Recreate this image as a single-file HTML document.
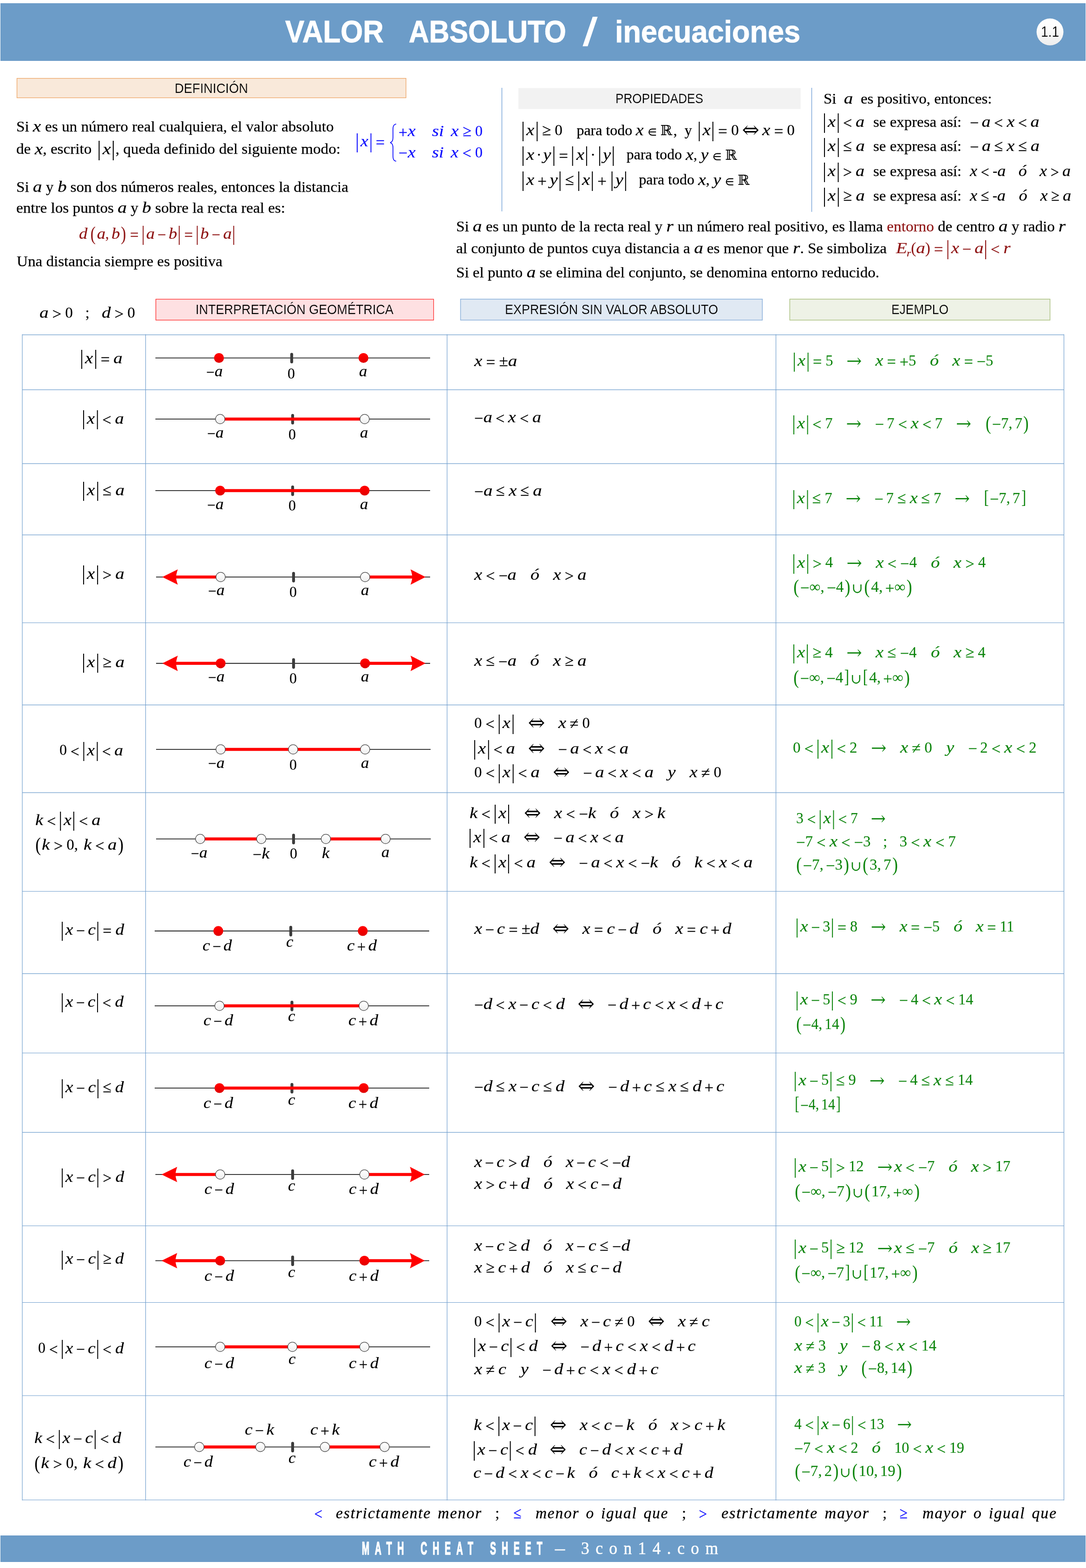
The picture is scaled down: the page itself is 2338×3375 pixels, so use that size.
<!DOCTYPE html>
<html lang="es"><head><meta charset="utf-8"><title>VALOR ABSOLUTO / inecuaciones</title>
<style>
*{margin:0;padding:0;box-sizing:border-box}
html,body{width:2338px;height:3375px;background:#fff;overflow:hidden}
body{position:relative;font-family:"Liberation Serif","DejaVu Math TeX Gyre","DejaVu Serif",serif}
.g{position:absolute;left:0;top:0}
.t{position:absolute;white-space:pre;line-height:1;transform-origin:0 0}
.hd{font-family:"Liberation Sans","DejaVu Sans",sans-serif;font-weight:bold;-webkit-text-stroke:0.9px #fff}
.lb{font-family:"Liberation Sans","DejaVu Sans",sans-serif}
.tx{font-family:"Liberation Serif","DejaVu Math TeX Gyre","DejaVu Serif",serif}
.tx .m{font-size:1.044em}
.tx{-webkit-text-stroke:0.25px}
.m{-webkit-text-stroke:0.12px}
.m i{-webkit-text-stroke:0.22px}
.hd.sl{font-weight:normal;-webkit-text-stroke:2px #fff}
.v{font-style:italic;font-size:1.04em;display:inline-block;transform:scaleX(1.14);transform-origin:0 50%;margin-right:0.07em}
.m i,.m>i,i{font-style:italic}
.m i{font-size:1.02em;display:inline-block;transform:scaleX(1.15);transform-origin:0 100%;margin-right:0.07em}
.bar{display:inline-block;width:0;border-left:2.2px solid;height:1.25em;vertical-align:-0.39em;margin:0 0.1em 0 0.12em}
.bar+i{margin-left:0.09em}
.bar.b0{margin-left:0}
.ar{font-family:"DejaVu Math TeX Gyre","DejaVu Sans",sans-serif;font-size:1.08em;margin:0 0.06em}
.a2{font-size:1.2em;margin:0 0.02em}
.dt{margin:0 0.12em}
.o.r{margin:0 0.05em}
.o.q{top:0}
.o.n{top:0.06em}
.k{display:inline-block}
.gp{display:inline-block}
.o{font-size:1.05em;line-height:0;position:relative;top:0.085em;-webkit-text-stroke:0.3px}
.m{word-spacing:-0.06em}
.p{display:inline-block;font-size:1.29em;transform:translateY(0.075em) scaleX(0.82)}
.p.bk{font-size:1.2em;transform:translateY(0.03em) scaleX(0.78)}
.pl{margin-right:0.03em}
.pr{margin-left:0.03em}
.cm{margin-right:0.16em}
.m i.cj{margin:0 0.17em 0 0.12em}
.u,.e,.R{font-family:"DejaVu Math TeX Gyre","DejaVu Serif",serif}
.u{font-size:0.86em;margin:0 0.08em;position:relative;top:0.03em}
.e{font-size:0.74em}
.R{font-size:0.92em}
sub{font-size:0.6em;vertical-align:-0.35em;line-height:0}
.fn{font-style:italic;letter-spacing:0.055em;word-spacing:0.12em;-webkit-text-stroke:0.3px}
.sc{-webkit-text-stroke:0.2px}
.ft1{font-family:"Liberation Sans","DejaVu Sans",sans-serif;font-weight:bold;letter-spacing:0.62em;word-spacing:0.35em;-webkit-text-stroke:1.6px #fff}
.ft2{letter-spacing:0.38em;-webkit-text-stroke:0.5px #fff}
.pb{display:inline-block;width:0;height:0}
</style></head><body>
<svg class="g" width="2338" height="3375" viewBox="0 0 2338 3375">
<defs><linearGradient id="go" x1="0" y1="0" x2="0" y2="1"><stop offset="0" stop-color="#fff"/><stop offset="0.3" stop-color="#fcfcfc"/><stop offset="1" stop-color="#ececec"/></linearGradient><linearGradient id="gc" x1="0" y1="0" x2="0" y2="1"><stop offset="0" stop-color="#ff0000"/><stop offset="0.35" stop-color="#fa0000"/><stop offset="1" stop-color="#de0000"/></linearGradient><linearGradient id="gb" x1="0" y1="0" x2="0" y2="1"><stop offset="0" stop-color="#fff"/><stop offset="0.35" stop-color="#fdfdfd"/><stop offset="1" stop-color="#ededed"/></linearGradient></defs>
<rect x="1.5" y="7.5" width="2335" height="123" fill="#6c9cc8" stroke="#6395c5" stroke-width="1"/>
<rect x="1.5" y="3305.5" width="2335" height="56" fill="#6c9cc8" stroke="#6395c5" stroke-width="1"/>
<circle cx="2260.5" cy="69.6" r="29.2" fill="#5f8cb6" opacity="0.45"/>
<circle cx="2260.5" cy="68.8" r="29" fill="url(#gb)"/>
<rect x="36.5" y="168.6" width="837.5" height="41.9" fill="#f9e9da" stroke="#eda566" stroke-width="1.3"/>
<rect x="1116" y="189.6" width="607.5" height="45" fill="#f2f2f2"/>
<rect x="335.5" y="644" width="598" height="45" fill="#fee0e2" stroke="#ff2222" stroke-width="1.25"/>
<rect x="991.5" y="643.8" width="649.7" height="45.2" fill="#e0e9f3" stroke="#8fb3dc" stroke-width="1.5"/>
<rect x="1700.3" y="643.8" width="560.2" height="45.2" fill="#eef2e6" stroke="#aec384" stroke-width="1.5"/>
<path d="M1080.5 189V455M1747.5 189V456" stroke="#7da7d9" stroke-width="1.5" fill="none"/>
<path d="M48 720.6H2290.5M48 838.9H2290.5M48 997.9H2290.5M48 1151.4H2290.5M48 1340.5H2290.5M48 1517.4H2290.5M48 1706.1H2290.5M48 1918.5H2290.5M48 2095.6H2290.5M48 2266.5H2290.5M48 2437.4H2290.5M48 2638.5H2290.5M48 2803.5H2290.5M48 3004H2290.5M48 3228.5H2290.5M48 719.6V3229.5M313.5 719.6V3229.5M962.5 719.6V3229.5M1670.5 719.6V3229.5M2290.5 719.6V3229.5" stroke="#6f9ecd" stroke-width="1.15" fill="none"/>
<path d="M853 267 C845 268 846 276 846 285 L846 296 C846 303 844 306 840 307 C844 308 846 311 846 318 L846 329 C846 338 845 346 853 347" stroke="#0c0cff" stroke-width="1.7" fill="none"/>
<path d="M334.5 770.5H926" stroke="#3c3c3c" stroke-width="2.15"/>
<path d="M628 762.5V779" stroke="#3c3c3c" stroke-width="6.2" stroke-linecap="round"/>
<circle cx="471.5" cy="770.5" r="10.6" fill="url(#gc)"/>
<circle cx="782.5" cy="770.5" r="10.6" fill="url(#gc)"/>
<path d="M334.5 902H926" stroke="#3c3c3c" stroke-width="2.15"/>
<path d="M630 894V910.5" stroke="#3c3c3c" stroke-width="6.2" stroke-linecap="round"/>
<path d="M474 902H785" stroke="#ff0000" stroke-width="6.5"/>
<circle cx="474" cy="902" r="10.1" fill="url(#go)" stroke="#484848" stroke-width="1.2"/>
<circle cx="785" cy="902" r="10.1" fill="url(#go)" stroke="#484848" stroke-width="1.2"/>
<path d="M334.5 1056H926" stroke="#3c3c3c" stroke-width="2.15"/>
<path d="M630 1048V1064.5" stroke="#3c3c3c" stroke-width="6.2" stroke-linecap="round"/>
<path d="M474 1056H785" stroke="#ff0000" stroke-width="6.5"/>
<circle cx="474" cy="1056" r="10.6" fill="url(#gc)"/>
<circle cx="785" cy="1056" r="10.6" fill="url(#gc)"/>
<path d="M336 1242H926" stroke="#3c3c3c" stroke-width="2.15"/>
<path d="M632 1234V1250.5" stroke="#3c3c3c" stroke-width="6.2" stroke-linecap="round"/>
<path d="M378 1242H475" stroke="#ff0000" stroke-width="6.5"/>
<path d="M786 1242H890" stroke="#ff0000" stroke-width="6.5"/>
<path d="M349.4 1242 L382.8 1225.4 Q379.4 1235 379 1242 Q379.4 1249 382.8 1258.6 Z" fill="#ff0000"/>
<path d="M916.1 1242 L883.8 1225.4 Q887.2 1235 887.6 1242 Q887.2 1249 883.8 1258.6 Z" fill="#ff0000"/>
<circle cx="475" cy="1242" r="10.1" fill="url(#go)" stroke="#484848" stroke-width="1.2"/>
<circle cx="786" cy="1242" r="10.1" fill="url(#go)" stroke="#484848" stroke-width="1.2"/>
<path d="M336 1427.8H926" stroke="#3c3c3c" stroke-width="2.15"/>
<path d="M632 1419.8V1436.3" stroke="#3c3c3c" stroke-width="6.2" stroke-linecap="round"/>
<path d="M378 1427.8H475" stroke="#ff0000" stroke-width="6.5"/>
<path d="M786 1427.8H890" stroke="#ff0000" stroke-width="6.5"/>
<path d="M349.4 1427.8 L382.8 1411.2 Q379.4 1420.8 379 1427.8 Q379.4 1434.8 382.8 1444.4 Z" fill="#ff0000"/>
<path d="M916.1 1427.8 L883.8 1411.2 Q887.2 1420.8 887.6 1427.8 Q887.2 1434.8 883.8 1444.4 Z" fill="#ff0000"/>
<circle cx="475" cy="1427.8" r="10.6" fill="url(#gc)"/>
<circle cx="786" cy="1427.8" r="10.6" fill="url(#gc)"/>
<path d="M336 1613H927" stroke="#3c3c3c" stroke-width="2.15"/>
<path d="M475 1613H786" stroke="#ff0000" stroke-width="6.5"/>
<circle cx="475" cy="1613" r="10.1" fill="url(#go)" stroke="#484848" stroke-width="1.2"/>
<circle cx="631" cy="1613" r="10.1" fill="url(#go)" stroke="#484848" stroke-width="1.2"/>
<circle cx="786" cy="1613" r="10.1" fill="url(#go)" stroke="#484848" stroke-width="1.2"/>
<path d="M336 1805.7H927.5" stroke="#3c3c3c" stroke-width="2.15"/>
<path d="M632 1797.7V1814.2" stroke="#3c3c3c" stroke-width="6.2" stroke-linecap="round"/>
<path d="M431 1805.7H562.5" stroke="#ff0000" stroke-width="6.5"/>
<path d="M701.5 1805.7H830" stroke="#ff0000" stroke-width="6.5"/>
<circle cx="431" cy="1805.7" r="10.1" fill="url(#go)" stroke="#484848" stroke-width="1.2"/>
<circle cx="562.5" cy="1805.7" r="10.1" fill="url(#go)" stroke="#484848" stroke-width="1.2"/>
<circle cx="701.5" cy="1805.7" r="10.1" fill="url(#go)" stroke="#484848" stroke-width="1.2"/>
<circle cx="830" cy="1805.7" r="10.1" fill="url(#go)" stroke="#484848" stroke-width="1.2"/>
<path d="M333 2003.9H924" stroke="#3c3c3c" stroke-width="2.15"/>
<path d="M626 1995.9V2012.4" stroke="#3c3c3c" stroke-width="6.2" stroke-linecap="round"/>
<circle cx="470" cy="2003.9" r="10.6" fill="url(#gc)"/>
<circle cx="781" cy="2003.9" r="10.6" fill="url(#gc)"/>
<path d="M333 2165H924" stroke="#3c3c3c" stroke-width="2.15"/>
<path d="M628.5 2157V2173.5" stroke="#3c3c3c" stroke-width="6.2" stroke-linecap="round"/>
<path d="M472.5 2165H783" stroke="#ff0000" stroke-width="6.5"/>
<circle cx="472.5" cy="2165" r="10.1" fill="url(#go)" stroke="#484848" stroke-width="1.2"/>
<circle cx="783" cy="2165" r="10.1" fill="url(#go)" stroke="#484848" stroke-width="1.2"/>
<path d="M333 2342H924" stroke="#3c3c3c" stroke-width="2.15"/>
<path d="M628.5 2334V2350.5" stroke="#3c3c3c" stroke-width="6.2" stroke-linecap="round"/>
<path d="M472.5 2342H783" stroke="#ff0000" stroke-width="6.5"/>
<circle cx="472.5" cy="2342" r="10.6" fill="url(#gc)"/>
<circle cx="783" cy="2342" r="10.6" fill="url(#gc)"/>
<path d="M334.5 2528H924" stroke="#3c3c3c" stroke-width="2.15"/>
<path d="M630 2520V2536.5" stroke="#3c3c3c" stroke-width="6.2" stroke-linecap="round"/>
<path d="M376 2528H474" stroke="#ff0000" stroke-width="6.5"/>
<path d="M784.5 2528H888" stroke="#ff0000" stroke-width="6.5"/>
<path d="M347.8 2528 L381.5 2511.4 Q378.1 2521 377.7 2528 Q378.1 2535 381.5 2544.6 Z" fill="#ff0000"/>
<path d="M914.5 2528 L882.5 2511.4 Q885.9 2521 886.3 2528 Q885.9 2535 882.5 2544.6 Z" fill="#ff0000"/>
<circle cx="474" cy="2528" r="10.1" fill="url(#go)" stroke="#484848" stroke-width="1.2"/>
<circle cx="784.5" cy="2528" r="10.1" fill="url(#go)" stroke="#484848" stroke-width="1.2"/>
<path d="M334.5 2713.5H924" stroke="#3c3c3c" stroke-width="2.15"/>
<path d="M630 2705.5V2722" stroke="#3c3c3c" stroke-width="6.2" stroke-linecap="round"/>
<path d="M376 2713.5H474" stroke="#ff0000" stroke-width="6.5"/>
<path d="M784.5 2713.5H888" stroke="#ff0000" stroke-width="6.5"/>
<path d="M347.8 2713.5 L381.5 2696.9 Q378.1 2706.5 377.7 2713.5 Q378.1 2720.5 381.5 2730.1 Z" fill="#ff0000"/>
<path d="M914.5 2713.5 L882.5 2696.9 Q885.9 2706.5 886.3 2713.5 Q885.9 2720.5 882.5 2730.1 Z" fill="#ff0000"/>
<circle cx="474" cy="2713.5" r="10.6" fill="url(#gc)"/>
<circle cx="784.5" cy="2713.5" r="10.6" fill="url(#gc)"/>
<path d="M334.5 2899H926" stroke="#3c3c3c" stroke-width="2.15"/>
<path d="M474 2899H784.5" stroke="#ff0000" stroke-width="6.5"/>
<circle cx="474" cy="2899" r="10.1" fill="url(#go)" stroke="#484848" stroke-width="1.2"/>
<circle cx="629.5" cy="2899" r="10.1" fill="url(#go)" stroke="#484848" stroke-width="1.2"/>
<circle cx="784.5" cy="2899" r="10.1" fill="url(#go)" stroke="#484848" stroke-width="1.2"/>
<path d="M334.5 3114.5H926" stroke="#3c3c3c" stroke-width="2.15"/>
<path d="M630 3106.5V3123" stroke="#3c3c3c" stroke-width="6.2" stroke-linecap="round"/>
<path d="M429 3114.5H560.5" stroke="#ff0000" stroke-width="6.5"/>
<path d="M699.5 3114.5H828" stroke="#ff0000" stroke-width="6.5"/>
<circle cx="429" cy="3114.5" r="10.1" fill="url(#go)" stroke="#484848" stroke-width="1.2"/>
<circle cx="560.5" cy="3114.5" r="10.1" fill="url(#go)" stroke="#484848" stroke-width="1.2"/>
<circle cx="699.5" cy="3114.5" r="10.1" fill="url(#go)" stroke="#484848" stroke-width="1.2"/>
<circle cx="828" cy="3114.5" r="10.1" fill="url(#go)" stroke="#484848" stroke-width="1.2"/>
</svg>
<div class="t hd" style="left:614.0px;top:35.0px;font-size:66.5px;color:#fff;transform:scaleX(0.9305)">VALOR</div>
<div class="t hd" style="left:880.0px;top:35.0px;font-size:66.5px;color:#fff;transform:scaleX(0.9115)">ABSOLUTO</div>
<div class="t hd sl" style="left:1256.0px;top:27.0px;font-size:84px;color:#fff;transform:scaleX(1.2423)">/</div>
<div class="t hd" style="left:1323.5px;top:35.0px;font-size:66.5px;color:#fff;transform:scaleX(0.9470)">inecuaciones</div>
<div class="t lb" style="left:2241.3px;top:53.0px;font-size:30.5px;color:#000;transform:scaleX(0.9197);-webkit-text-stroke:0.15px #f7f7f7">1.1</div>
<div class="t lb" style="left:376.0px;top:175.0px;font-size:29.5px;color:#000;transform:scaleX(0.9269);-webkit-text-stroke:0.18px #f9e9da">DEFINICIÓN</div>
<div class="t lb" style="left:1325.0px;top:196.5px;font-size:29.5px;color:#000;transform:scaleX(0.8868);-webkit-text-stroke:0.18px #f2f2f2">PROPIEDADES</div>
<div class="t lb" style="left:421.0px;top:651.0px;font-size:30px;color:#000;transform:scaleX(0.9010);-webkit-text-stroke:0.18px #fee0e2">INTERPRETACIÓN GEOMÉTRICA</div>
<div class="t lb" style="left:1087.0px;top:651.0px;font-size:30px;color:#000;transform:scaleX(0.8987);-webkit-text-stroke:0.18px #e0e9f3">EXPRESIÓN SIN VALOR ABSOLUTO</div>
<div class="t lb" style="left:1919.0px;top:651.0px;font-size:30px;color:#000;transform:scaleX(0.8783);-webkit-text-stroke:0.18px #eef2e6">EJEMPLO</div>
<div class="t tx" style="left:35.0px;top:256.3px;font-size:31.6px;color:#000;transform:scaleX(1.0510)">Si <i class="v">x</i> es un número real cualquiera, el valor absoluto</div>
<div class="t tx" style="left:35.0px;top:303.3px;font-size:31.6px;color:#000;transform:scaleX(1.0493)">de <i class="v">x</i>, escrito <span class="m"> <b class="bar b0"></b><i>x</i><b class="bar"></b></span>, queda definido del siguiente modo:</div>
<div class="t tx" style="left:35.0px;top:385.5px;font-size:31.6px;color:#000;transform:scaleX(1.0478)">Si <i class="v">a</i> y <i class="v">b</i> son dos números reales, entonces la distancia</div>
<div class="t tx" style="left:35.0px;top:431.0px;font-size:31.6px;color:#000;transform:scaleX(1.0497)">entre los puntos <i class="v">a</i> y <i class="v">b</i> sobre la recta real es:</div>
<div class="t m" style="left:170.0px;top:479.3px;font-size:33px;color:#8e1313;transform:scaleX(0.9466)"><i>d</i> <span class="p pl">(</span><i>a</i><span class="cm">,</span><i>b</i><span class="p pr">)</span> <span class="o r">=</span><span class="k" style="margin-left:-0.09em"></span> <b class="bar"></b><i>a</i> <span class="o">−</span> <i>b</i><b class="bar"></b> <span class="k" style="margin-left:-0.04em"></span><span class="o r">=</span><span class="k" style="margin-left:-0.09em"></span> <b class="bar"></b><i>b</i> <span class="o">−</span> <i>a</i><b class="bar"></b></div>
<div class="t tx" style="left:36.0px;top:547.0px;font-size:31.6px;color:#000;transform:scaleX(1.0476)">Una distancia siempre es positiva</div>
<div class="t m" style="left:85.0px;top:656.4px;font-size:33px;color:#000;transform:scaleX(1.0079)"><i>a</i> <span class="o r">&gt;</span> 0<span class="gp" style="width:0.8em"></span>;<span class="gp" style="width:0.8em"></span><i>d</i> <span class="o r">&gt;</span> 0</div>
<div class="t m" style="left:768.0px;top:287.1px;font-size:33px;color:#0c0cff;transform:scaleX(0.9871)"><b class="bar b0"></b><i>x</i><b class="bar"></b> <span class="k" style="margin-left:-0.04em"></span><span class="o r">=</span></div>
<div class="t m" style="left:858.0px;top:265.4px;font-size:33px;color:#0c0cff;transform:scaleX(0.9877)"><span class="o">+</span><i>x</i><span class="gp" style="width:1.1em"></span><i>si</i><span class="gp" style="width:0.5em"></span><i>x</i> <span class="o r q">≥</span> 0</div>
<div class="t m" style="left:858.0px;top:310.5px;font-size:33px;color:#0c0cff;transform:scaleX(0.9849)"><span class="o">−</span><i>x</i><span class="gp" style="width:1.1em"></span><i>si</i><span class="gp" style="width:0.5em"></span><i>x</i> <span class="o r">&lt;</span> 0</div>
<div class="t tx" style="left:1125.0px;top:259.8px;font-size:31.6px;color:#000;transform:scaleX(1.0117)"><span class="m"><b class="bar b0"></b><i>x</i><b class="bar"></b> <span class="k" style="margin-left:-0.04em"></span><span class="o r q">≥</span> 0</span>    para todo <i class="v">x</i> <span class="m"><span class="e">∈</span> <span class="R">ℝ</span></span>,  y <span class="m"> <b class="bar b0"></b><i>x</i><b class="bar"></b> <span class="k" style="margin-left:-0.04em"></span><span class="o r">=</span> 0<span style="margin:0 0.12em 0 0.15em"><span class="ar a2">⇔</span></span><i>x</i> <span class="o r">=</span> 0</span></div>
<div class="t tx" style="left:1125.0px;top:315.4px;font-size:31.6px;color:#000;transform:scaleX(1.0064)"><span class="m"><b class="bar b0"></b><i>x</i><span class="dt">·</span><i>y</i><b class="bar"></b> <span class="k" style="margin-left:-0.04em"></span><span class="o r">=</span><span class="k" style="margin-left:-0.09em"></span> <b class="bar"></b><i>x</i><b class="bar"></b><span class="dt">·</span><b class="bar"></b><i>y</i><b class="bar"></b></span>   para todo <i class="v">x</i>, <i class="v">y</i> <span class="m"><span class="e">∈</span> <span class="R">ℝ</span></span></div>
<div class="t tx" style="left:1125.0px;top:369.4px;font-size:31.6px;color:#000;transform:scaleX(1.0083)"><span class="m"><b class="bar b0"></b><i>x</i> <span class="o">+</span> <i>y</i><b class="bar"></b> <span class="k" style="margin-left:-0.04em"></span><span class="o r q">≤</span><span class="k" style="margin-left:-0.09em"></span> <b class="bar"></b><i>x</i><b class="bar"></b> <span class="o">+</span> <b class="bar"></b><i>y</i><b class="bar"></b></span>   para todo <i class="v">x</i>, <i class="v">y</i> <span class="m"><span class="e">∈</span> <span class="R">ℝ</span></span></div>
<div class="t tx" style="left:1772.5px;top:196.3px;font-size:31.6px;color:#000;transform:scaleX(1.0422)">Si  <i class="v">a</i>  es positivo, entonces:</div>
<div class="t tx" style="left:1774.0px;top:244.4px;font-size:31.6px;color:#000;transform:scaleX(0.9860)"><span class="m"><b class="bar b0"></b><i>x</i><b class="bar"></b> <span class="k" style="margin-left:-0.04em"></span><span class="o r">&lt;</span> <i>a</i></span></div>
<div class="t tx" style="left:1880.0px;top:246.8px;font-size:31.6px;color:#000;transform:scaleX(1.0413)">se expresa así:</div>
<div class="t tx" style="left:2088.0px;top:244.8px;font-size:31.6px;color:#000;transform:scaleX(0.9803)"><span class="m"><span class="o">−</span> <i>a</i> <span class="o r">&lt;</span> <i>x</i> <span class="o r">&lt;</span> <i>a</i></span></div>
<div class="t tx" style="left:1774.0px;top:296.9px;font-size:31.6px;color:#000;transform:scaleX(0.9918)"><span class="m"><b class="bar b0"></b><i>x</i><b class="bar"></b> <span class="k" style="margin-left:-0.04em"></span><span class="o r q">≤</span> <i>a</i></span></div>
<div class="t tx" style="left:1880.0px;top:299.3px;font-size:31.6px;color:#000;transform:scaleX(1.0413)">se expresa así:</div>
<div class="t tx" style="left:2088.0px;top:297.3px;font-size:31.6px;color:#000;transform:scaleX(0.9903)"><span class="m"><span class="o">−</span> <i>a</i> <span class="o r q">≤</span> <i>x</i> <span class="o r q">≤</span> <i>a</i></span></div>
<div class="t tx" style="left:1774.0px;top:350.4px;font-size:31.6px;color:#000;transform:scaleX(0.9860)"><span class="m"><b class="bar b0"></b><i>x</i><b class="bar"></b> <span class="k" style="margin-left:-0.04em"></span><span class="o r">&gt;</span> <i>a</i></span></div>
<div class="t tx" style="left:1880.0px;top:352.8px;font-size:31.6px;color:#000;transform:scaleX(1.0413)">se expresa así:</div>
<div class="t tx" style="left:2088.0px;top:350.8px;font-size:31.6px;color:#000;transform:scaleX(0.9261)"><span class="m"><i>x</i> <span class="o r">&lt;</span> -<i>a</i><span class="gp" style="width:0.8em"></span><i class="cj">ó</i><span class="gp" style="width:0.8em"></span><i>x</i> <span class="o r">&gt;</span> <i>a</i></span></div>
<div class="t tx" style="left:1774.0px;top:403.9px;font-size:31.6px;color:#000;transform:scaleX(0.9918)"><span class="m"><b class="bar b0"></b><i>x</i><b class="bar"></b> <span class="k" style="margin-left:-0.04em"></span><span class="o r q">≥</span> <i>a</i></span></div>
<div class="t tx" style="left:1880.0px;top:406.3px;font-size:31.6px;color:#000;transform:scaleX(1.0413)">se expresa así:</div>
<div class="t tx" style="left:2088.0px;top:404.3px;font-size:31.6px;color:#000;transform:scaleX(0.9345)"><span class="m"><i>x</i> <span class="o r q">≤</span> -<i>a</i><span class="gp" style="width:0.8em"></span><i class="cj">ó</i><span class="gp" style="width:0.8em"></span><i>x</i> <span class="o r q">≥</span> <i>a</i></span></div>
<div class="t tx" style="left:982.0px;top:470.8px;font-size:31.6px;color:#000;transform:scaleX(1.0501)">Si <i class="v">a</i> es un punto de la recta real y <i class="v">r</i> un número real positivo, es llama <span style="color:#8e1313">entorno</span> de centro <i class="v">a</i> y radio <i class="v">r</i></div>
<div class="t tx" style="left:982.0px;top:518.3px;font-size:31.6px;color:#000;transform:scaleX(1.0476)">al conjunto de puntos cuya distancia a <i class="v">a</i> es menor que <i class="v">r</i>. Se simboliza</div>
<div class="t m" style="left:1929.0px;top:516.9px;font-size:33px;color:#8e1313;transform:scaleX(1.0053)"><i>E</i><sub><i>r</i></sub>(<i>a</i>) <span class="o r">=</span><span class="k" style="margin-left:-0.09em"></span> <b class="bar"></b><i>x</i> <span class="o">−</span> <i>a</i><b class="bar"></b> <span class="k" style="margin-left:-0.04em"></span><span class="o r">&lt;</span> <i>r</i></div>
<div class="t tx" style="left:982.0px;top:569.5px;font-size:31.6px;color:#000;transform:scaleX(1.0463)">Si el punto <i class="v">a</i> se elimina del conjunto, se denomina entorno reducido.</div>
<div class="t m" style="left:175.0px;top:753.2px;font-size:33px;color:#000;transform:scaleX(1.0027)"><b class="bar b0"></b><i>x</i><b class="bar"></b> <span class="k" style="margin-left:-0.04em"></span><span class="o r">=</span> <i>a</i></div>
<div class="t m" style="left:179.0px;top:883.2px;font-size:33px;color:#000;transform:scaleX(0.9913)"><b class="bar b0"></b><i>x</i><b class="bar"></b> <span class="k" style="margin-left:-0.04em"></span><span class="o r">&lt;</span> <i>a</i></div>
<div class="t m" style="left:179.0px;top:1037.2px;font-size:33px;color:#000;transform:scaleX(1.0087)"><b class="bar b0"></b><i>x</i><b class="bar"></b> <span class="k" style="margin-left:-0.04em"></span><span class="o r q">≤</span> <i>a</i></div>
<div class="t m" style="left:179.0px;top:1217.2px;font-size:33px;color:#000;transform:scaleX(1.0027)"><b class="bar b0"></b><i>x</i><b class="bar"></b> <span class="k" style="margin-left:-0.04em"></span><span class="o r">&gt;</span> <i>a</i></div>
<div class="t m" style="left:179.0px;top:1407.2px;font-size:33px;color:#000;transform:scaleX(1.0087)"><b class="bar b0"></b><i>x</i><b class="bar"></b> <span class="k" style="margin-left:-0.04em"></span><span class="o r q">≥</span> <i>a</i></div>
<div class="t m" style="left:128.0px;top:1597.2px;font-size:33px;color:#000;transform:scaleX(0.9696)">0 <span class="o r">&lt;</span><span class="k" style="margin-left:-0.09em"></span> <b class="bar"></b><i>x</i><b class="bar"></b> <span class="k" style="margin-left:-0.04em"></span><span class="o r">&lt;</span> <i>a</i></div>
<div class="t m" style="left:76.0px;top:1747.2px;font-size:33px;color:#000;transform:scaleX(0.9853)"><i>k</i> <span class="o r">&lt;</span><span class="k" style="margin-left:-0.09em"></span> <b class="bar"></b><i>x</i><b class="bar"></b> <span class="k" style="margin-left:-0.04em"></span><span class="o r">&lt;</span> <i>a</i></div>
<div class="t m" style="left:75.0px;top:1793.6px;font-size:33px;color:#000"><span class="p pl">(</span><i>k</i> <span class="o r">&gt;</span> 0<span class="cm">,</span> <i>k</i> <span class="o r">&lt;</span> <i>a</i><span class="p pr">)</span></div>
<div class="t m" style="left:132.5px;top:1983.7px;font-size:33px;color:#000;transform:scaleX(0.9697)"><b class="bar b0"></b><i>x</i> <span class="o">−</span> <i>c</i><b class="bar"></b> <span class="k" style="margin-left:-0.04em"></span><span class="o r">=</span> <i>d</i></div>
<div class="t m" style="left:132.5px;top:2138.2px;font-size:33px;color:#000;transform:scaleX(0.9624)"><b class="bar b0"></b><i>x</i> <span class="o">−</span> <i>c</i><b class="bar"></b> <span class="k" style="margin-left:-0.04em"></span><span class="o r">&lt;</span> <i>d</i></div>
<div class="t m" style="left:132.5px;top:2322.7px;font-size:33px;color:#000;transform:scaleX(0.9735)"><b class="bar b0"></b><i>x</i> <span class="o">−</span> <i>c</i><b class="bar"></b> <span class="k" style="margin-left:-0.04em"></span><span class="o r q">≤</span> <i>d</i></div>
<div class="t m" style="left:132.5px;top:2515.2px;font-size:33px;color:#000;transform:scaleX(0.9697)"><b class="bar b0"></b><i>x</i> <span class="o">−</span> <i>c</i><b class="bar"></b> <span class="k" style="margin-left:-0.04em"></span><span class="o r">&gt;</span> <i>d</i></div>
<div class="t m" style="left:132.5px;top:2691.7px;font-size:33px;color:#000;transform:scaleX(0.9735)"><b class="bar b0"></b><i>x</i> <span class="o">−</span> <i>c</i><b class="bar"></b> <span class="k" style="margin-left:-0.04em"></span><span class="o r q">≥</span> <i>d</i></div>
<div class="t m" style="left:82.0px;top:2884.2px;font-size:33px;color:#000;transform:scaleX(0.9649)">0 <span class="o r">&lt;</span><span class="k" style="margin-left:-0.09em"></span> <b class="bar"></b><i>x</i> <span class="o">−</span> <i>c</i><b class="bar"></b> <span class="k" style="margin-left:-0.04em"></span><span class="o r">&lt;</span> <i>d</i></div>
<div class="t m" style="left:74.0px;top:3077.7px;font-size:33px;color:#000;transform:scaleX(0.9765)"><i>k</i> <span class="o r">&lt;</span><span class="k" style="margin-left:-0.09em"></span> <b class="bar"></b><i>x</i> <span class="o">−</span> <i>c</i><b class="bar"></b> <span class="k" style="margin-left:-0.04em"></span><span class="o r">&lt;</span> <i>d</i></div>
<div class="t m" style="left:73.0px;top:3124.6px;font-size:33px;color:#000;transform:scaleX(1.0101)"><span class="p pl">(</span><i>k</i> <span class="o r">&gt;</span> 0<span class="cm">,</span> <i>k</i> <span class="o r">&lt;</span> <i>d</i><span class="p pr">)</span></div>
<div class="t m" style="left:1021.0px;top:760.3px;font-size:33px;color:#000;transform:scaleX(1.0106)"><i>x</i> <span class="o r">=</span> <span class="o q">±</span><i>a</i></div>
<div class="t m" style="left:1021.0px;top:881.3px;font-size:33px;color:#000;transform:scaleX(0.9844)"><span class="o">−</span><i>a</i> <span class="o r">&lt;</span> <i>x</i> <span class="o r">&lt;</span> <i>a</i></div>
<div class="t m" style="left:1021.0px;top:1039.3px;font-size:33px;color:#000;transform:scaleX(1.0019)"><span class="o">−</span><i>a</i> <span class="o r q">≤</span> <i>x</i> <span class="o r q">≤</span> <i>a</i></div>
<div class="t m" style="left:1021.0px;top:1220.3px;font-size:33px;color:#000;transform:scaleX(0.9920)"><i>x</i> <span class="o r">&lt;</span> <span class="o">−</span><i>a</i><span class="gp" style="width:0.8em"></span><i class="cj">ó</i><span class="gp" style="width:0.8em"></span><i>x</i> <span class="o r">&gt;</span> <i>a</i></div>
<div class="t m" style="left:1021.0px;top:1405.3px;font-size:33px;color:#000;transform:scaleX(0.9964)"><i>x</i> <span class="o r q">≤</span> <span class="o">−</span><i>a</i><span class="gp" style="width:0.8em"></span><i class="cj">ó</i><span class="gp" style="width:0.8em"></span><i>x</i> <span class="o r q">≥</span> <i>a</i></div>
<div class="t m" style="left:1021.0px;top:1535.8px;font-size:33px;color:#000;transform:scaleX(0.9948)">0 <span class="o r">&lt;</span><span class="k" style="margin-left:-0.09em"></span> <b class="bar"></b><i>x</i><b class="bar"></b><span class="gp" style="width:0.8em"></span><span class="ar a2">⇔</span><span class="gp" style="width:0.8em"></span><i>x</i> <span class="o r n">≠</span> 0</div>
<div class="t m" style="left:1021.0px;top:1590.8px;font-size:33px;color:#000;transform:scaleX(0.9927)"><b class="bar b0"></b><i>x</i><b class="bar"></b> <span class="k" style="margin-left:-0.04em"></span><span class="o r">&lt;</span> <i>a</i><span class="gp" style="width:0.8em"></span><span class="ar a2">⇔</span><span class="gp" style="width:0.8em"></span><span class="o">−</span> <i>a</i> <span class="o r">&lt;</span> <i>x</i> <span class="o r">&lt;</span> <i>a</i></div>
<div class="t m" style="left:1021.0px;top:1642.3px;font-size:33px;color:#000;transform:scaleX(0.9967)">0 <span class="o r">&lt;</span><span class="k" style="margin-left:-0.09em"></span> <b class="bar"></b><i>x</i><b class="bar"></b> <span class="k" style="margin-left:-0.04em"></span><span class="o r">&lt;</span> <i>a</i><span class="gp" style="width:0.8em"></span><span class="ar a2">⇔</span><span class="gp" style="width:0.8em"></span><span class="o">−</span> <i>a</i> <span class="o r">&lt;</span> <i>x</i> <span class="o r">&lt;</span> <i>a</i><span class="gp" style="width:0.8em"></span><i class="cj">y</i><span class="gp" style="width:0.8em"></span><i>x</i> <span class="o r n">≠</span> 0</div>
<div class="t m" style="left:1011.0px;top:1729.6px;font-size:33px;color:#000"><i>k</i> <span class="o r">&lt;</span><span class="k" style="margin-left:-0.09em"></span> <b class="bar"></b><i>x</i><b class="bar"></b><span class="gp" style="width:0.8em"></span><span class="ar a2">⇔</span><span class="gp" style="width:0.8em"></span><i>x</i> <span class="o r">&lt;</span> <span class="o">−</span><i>k</i><span class="gp" style="width:0.8em"></span><i class="cj">ó</i><span class="gp" style="width:0.8em"></span><i>x</i> <span class="o r">&gt;</span> <i>k</i></div>
<div class="t m" style="left:1011.0px;top:1781.6px;font-size:33px;color:#000;transform:scaleX(0.9927)"><b class="bar b0"></b><i>x</i><b class="bar"></b> <span class="k" style="margin-left:-0.04em"></span><span class="o r">&lt;</span> <i>a</i><span class="gp" style="width:0.8em"></span><span class="ar a2">⇔</span><span class="gp" style="width:0.8em"></span><span class="o">−</span> <i>a</i> <span class="o r">&lt;</span> <i>x</i> <span class="o r">&lt;</span> <i>a</i></div>
<div class="t m" style="left:1011.0px;top:1836.1px;font-size:33px;color:#000;transform:scaleX(0.9981)"><i>k</i> <span class="o r">&lt;</span><span class="k" style="margin-left:-0.09em"></span> <b class="bar"></b><i>x</i><b class="bar"></b> <span class="k" style="margin-left:-0.04em"></span><span class="o r">&lt;</span> <i>a</i><span class="gp" style="width:0.8em"></span><span class="ar a2">⇔</span><span class="gp" style="width:0.8em"></span><span class="o">−</span> <i>a</i> <span class="o r">&lt;</span> <i>x</i> <span class="o r">&lt;</span> <span class="o">−</span><i>k</i><span class="gp" style="width:0.8em"></span><i class="cj">ó</i><span class="gp" style="width:0.8em"></span><i>k</i> <span class="o r">&lt;</span> <i>x</i> <span class="o r">&lt;</span> <i>a</i></div>
<div class="t m" style="left:1021.0px;top:1979.1px;font-size:33px;color:#000;transform:scaleX(0.9951)"><i>x</i> <span class="o">−</span> <i>c</i> <span class="o r">=</span> <span class="o q">±</span><i>d</i><span class="gp" style="width:0.8em"></span><span class="ar a2">⇔</span><span class="gp" style="width:0.8em"></span><i>x</i> <span class="o r">=</span> <i>c</i> <span class="o">−</span> <i>d</i><span class="gp" style="width:0.8em"></span><i class="cj">ó</i><span class="gp" style="width:0.8em"></span><i>x</i> <span class="o r">=</span> <i>c</i> <span class="o">+</span> <i>d</i></div>
<div class="t m" style="left:1021.0px;top:2141.3px;font-size:33px;color:#000;transform:scaleX(0.9923)"><span class="o">−</span><i>d</i> <span class="o r">&lt;</span> <i>x</i> <span class="o">−</span> <i>c</i> <span class="o r">&lt;</span> <i>d</i><span class="gp" style="width:0.8em"></span><span class="ar a2">⇔</span><span class="gp" style="width:0.8em"></span><span class="o">−</span> <i>d</i> <span class="o">+</span> <i>c</i> <span class="o r">&lt;</span> <i>x</i> <span class="o r">&lt;</span> <i>d</i> <span class="o">+</span> <i>c</i></div>
<div class="t m" style="left:1021.0px;top:2318.3px;font-size:33px;color:#000"><span class="o">−</span><i>d</i> <span class="o r q">≤</span> <i>x</i> <span class="o">−</span> <i>c</i> <span class="o r q">≤</span> <i>d</i><span class="gp" style="width:0.8em"></span><span class="ar a2">⇔</span><span class="gp" style="width:0.8em"></span><span class="o">−</span> <i>d</i> <span class="o">+</span> <i>c</i> <span class="o r q">≤</span> <i>x</i> <span class="o r q">≤</span> <i>d</i> <span class="o">+</span> <i>c</i></div>
<div class="t m" style="left:1021.0px;top:2484.3px;font-size:33px;color:#000;transform:scaleX(0.9802)"><i>x</i> <span class="o">−</span> <i>c</i> <span class="o r">&gt;</span> <i>d</i><span class="gp" style="width:0.8em"></span><i class="cj">ó</i><span class="gp" style="width:0.8em"></span><i>x</i> <span class="o">−</span> <i>c</i> <span class="o r">&lt;</span> <span class="o">−</span><i>d</i></div>
<div class="t m" style="left:1021.0px;top:2531.3px;font-size:33px;color:#000;transform:scaleX(0.9839)"><i>x</i> <span class="o r">&gt;</span> <i>c</i> <span class="o">+</span> <i>d</i><span class="gp" style="width:0.8em"></span><i class="cj">ó</i><span class="gp" style="width:0.8em"></span><i>x</i> <span class="o r">&lt;</span> <i>c</i> <span class="o">−</span> <i>d</i></div>
<div class="t m" style="left:1021.0px;top:2664.3px;font-size:33px;color:#000;transform:scaleX(0.9833)"><i>x</i> <span class="o">−</span> <i>c</i> <span class="o r q">≥</span> <i>d</i><span class="gp" style="width:0.8em"></span><i class="cj">ó</i><span class="gp" style="width:0.8em"></span><i>x</i> <span class="o">−</span> <i>c</i> <span class="o r q">≤</span> <span class="o">−</span><i>d</i></div>
<div class="t m" style="left:1021.0px;top:2711.3px;font-size:33px;color:#000;transform:scaleX(0.9871)"><i>x</i> <span class="o r q">≥</span> <i>c</i> <span class="o">+</span> <i>d</i><span class="gp" style="width:0.8em"></span><i class="cj">ó</i><span class="gp" style="width:0.8em"></span><i>x</i> <span class="o r q">≤</span> <i>c</i> <span class="o">−</span> <i>d</i></div>
<div class="t m" style="left:1021.0px;top:2824.3px;font-size:33px;color:#000;transform:scaleX(0.9896)">0 <span class="o r">&lt;</span><span class="k" style="margin-left:-0.09em"></span> <b class="bar"></b><i>x</i> <span class="o">−</span> <i>c</i><b class="bar"></b><span class="gp" style="width:0.8em"></span><span class="ar a2">⇔</span><span class="gp" style="width:0.8em"></span><i>x</i> <span class="o">−</span> <i>c</i> <span class="o r n">≠</span> 0<span class="gp" style="width:0.8em"></span><span class="ar a2">⇔</span><span class="gp" style="width:0.8em"></span><i>x</i> <span class="o r n">≠</span> <i>c</i></div>
<div class="t m" style="left:1021.0px;top:2877.3px;font-size:33px;color:#000;transform:scaleX(0.9883)"><b class="bar b0"></b><i>x</i> <span class="o">−</span> <i>c</i><b class="bar"></b> <span class="k" style="margin-left:-0.04em"></span><span class="o r">&lt;</span> <i>d</i><span class="gp" style="width:0.8em"></span><span class="ar a2">⇔</span><span class="gp" style="width:0.8em"></span><span class="o">−</span> <i>d</i> <span class="o">+</span> <i>c</i> <span class="o r">&lt;</span> <i>x</i> <span class="o r">&lt;</span> <i>d</i> <span class="o">+</span> <i>c</i></div>
<div class="t m" style="left:1021.0px;top:2930.3px;font-size:33px;color:#000;transform:scaleX(0.9963)"><i>x</i> <span class="o r n">≠</span> <i>c</i><span class="gp" style="width:0.8em"></span><i class="cj">y</i><span class="gp" style="width:0.8em"></span><span class="o">−</span> <i>d</i> <span class="o">+</span> <i>c</i> <span class="o r">&lt;</span> <i>x</i> <span class="o r">&lt;</span> <i>d</i> <span class="o">+</span> <i>c</i></div>
<div class="t m" style="left:1020.0px;top:3046.8px;font-size:33px;color:#000;transform:scaleX(0.9834)"><i>k</i> <span class="o r">&lt;</span><span class="k" style="margin-left:-0.09em"></span> <b class="bar"></b><i>x</i> <span class="o">−</span> <i>c</i><b class="bar"></b><span class="gp" style="width:0.8em"></span><span class="ar a2">⇔</span><span class="gp" style="width:0.8em"></span><i>x</i> <span class="o r">&lt;</span> <i>c</i> <span class="o">−</span> <i>k</i><span class="gp" style="width:0.8em"></span><i class="cj">ó</i><span class="gp" style="width:0.8em"></span><i>x</i> <span class="o r">&gt;</span> <i>c</i> <span class="o">+</span> <i>k</i></div>
<div class="t m" style="left:1020.0px;top:3099.8px;font-size:33px;color:#000;transform:scaleX(0.9829)"><b class="bar b0"></b><i>x</i> <span class="o">−</span> <i>c</i><b class="bar"></b> <span class="k" style="margin-left:-0.04em"></span><span class="o r">&lt;</span> <i>d</i><span class="gp" style="width:0.8em"></span><span class="ar a2">⇔</span><span class="gp" style="width:0.8em"></span><i>c</i> <span class="o">−</span> <i>d</i> <span class="o r">&lt;</span> <i>x</i> <span class="o r">&lt;</span> <i>c</i> <span class="o">+</span> <i>d</i></div>
<div class="t m" style="left:1019.0px;top:3153.3px;font-size:33px;color:#000;transform:scaleX(0.9797)"><i>c</i> <span class="o">−</span> <i>d</i> <span class="o r">&lt;</span> <i>x</i> <span class="o r">&lt;</span> <i>c</i> <span class="o">−</span> <i>k</i><span class="gp" style="width:0.8em"></span><i class="cj">ó</i><span class="gp" style="width:0.8em"></span><i>c</i> <span class="o">+</span> <i>k</i> <span class="o r">&lt;</span> <i>x</i> <span class="o r">&lt;</span> <i>c</i> <span class="o">+</span> <i>d</i></div>
<div class="t m" style="left:1708.8px;top:758.8px;font-size:33px;color:#0d850d;transform:scaleX(0.9864)"><b class="bar b0"></b><i>x</i><b class="bar"></b> <span class="k" style="margin-left:-0.04em"></span><span class="o r">=</span> 5<span class="gp" style="width:0.8em"></span><span class="ar">→</span><span class="gp" style="width:0.8em"></span><i>x</i> <span class="o r">=</span> <span class="o">+</span>5<span class="gp" style="width:0.8em"></span><i class="cj">ó</i><span class="gp" style="width:0.8em"></span><i>x</i> <span class="o r">=</span> <span class="o">−</span>5</div>
<div class="t m" style="left:1707.8px;top:887.2px;font-size:33px;color:#0d850d;transform:scaleX(0.9877)"><b class="bar b0"></b><i>x</i><b class="bar"></b> <span class="k" style="margin-left:-0.04em"></span><span class="o r">&lt;</span> 7<span class="gp" style="width:0.8em"></span><span class="ar">→</span><span class="gp" style="width:0.8em"></span><span class="o">−</span> 7 <span class="o r">&lt;</span> <i>x</i> <span class="o r">&lt;</span> 7<span class="gp" style="width:0.8em"></span><span class="ar">→</span><span class="gp" style="width:0.8em"></span><span class="p pl">(</span><span class="o">−</span>7<span class="cm">,</span>7<span class="p pr">)</span></div>
<div class="t m" style="left:1707.8px;top:1051.2px;font-size:33px;color:#0d850d;transform:scaleX(0.9832)"><b class="bar b0"></b><i>x</i><b class="bar"></b> <span class="k" style="margin-left:-0.04em"></span><span class="o r q">≤</span> 7<span class="gp" style="width:0.8em"></span><span class="ar">→</span><span class="gp" style="width:0.8em"></span><span class="o">−</span> 7 <span class="o r q">≤</span> <i>x</i> <span class="o r q">≤</span> 7<span class="gp" style="width:0.8em"></span><span class="ar">→</span><span class="gp" style="width:0.8em"></span><span class="p pl bk">[</span><span class="o">−</span>7<span class="cm">,</span>7<span class="p pr bk">]</span></div>
<div class="t m" style="left:1707.8px;top:1193.3px;font-size:33px;color:#0d850d;transform:scaleX(0.9967)"><b class="bar b0"></b><i>x</i><b class="bar"></b> <span class="k" style="margin-left:-0.04em"></span><span class="o r">&gt;</span> 4<span class="gp" style="width:0.8em"></span><span class="ar">→</span><span class="gp" style="width:0.8em"></span><i>x</i> <span class="o r">&lt;</span> <span class="o">−</span>4<span class="gp" style="width:0.8em"></span><i class="cj">ó</i><span class="gp" style="width:0.8em"></span><i>x</i> <span class="o r">&gt;</span> 4</div>
<div class="t m" style="left:1707.0px;top:1239.2px;font-size:33px;color:#0d850d;transform:scaleX(1.0139)"><span class="p pl">(</span><span class="o">−</span>∞<span class="cm">,</span><span class="o">−</span>4<span class="p pr">)</span><span class="u">∪</span><span class="p pl">(</span>4<span class="cm">,</span><span class="o">+</span>∞<span class="p pr">)</span></div>
<div class="t m" style="left:1707.8px;top:1386.8px;font-size:33px;color:#0d850d"><b class="bar b0"></b><i>x</i><b class="bar"></b> <span class="k" style="margin-left:-0.04em"></span><span class="o r q">≥</span> 4<span class="gp" style="width:0.8em"></span><span class="ar">→</span><span class="gp" style="width:0.8em"></span><i>x</i> <span class="o r q">≤</span> <span class="o">−</span>4<span class="gp" style="width:0.8em"></span><i class="cj">ó</i><span class="gp" style="width:0.8em"></span><i>x</i> <span class="o r q">≥</span> 4</div>
<div class="t m" style="left:1707.0px;top:1434.2px;font-size:33px;color:#0d850d;transform:scaleX(1.0028)"><span class="p pl">(</span><span class="o">−</span>∞<span class="cm">,</span><span class="o">−</span>4<span class="p pr bk">]</span><span class="u">∪</span><span class="p pl bk">[</span>4<span class="cm">,</span><span class="o">+</span>∞<span class="p pr">)</span></div>
<div class="t m" style="left:1707.0px;top:1591.8px;font-size:33px;color:#0d850d">0 <span class="o r">&lt;</span><span class="k" style="margin-left:-0.09em"></span> <b class="bar"></b><i>x</i><b class="bar"></b> <span class="k" style="margin-left:-0.04em"></span><span class="o r">&lt;</span> 2<span class="gp" style="width:0.8em"></span><span class="ar">→</span><span class="gp" style="width:0.8em"></span><i>x</i> <span class="o r n">≠</span> 0<span class="gp" style="width:0.8em"></span><i class="cj">y</i><span class="gp" style="width:0.8em"></span><span class="o">−</span> 2 <span class="o r">&lt;</span> <i>x</i> <span class="o r">&lt;</span> 2</div>
<div class="t m" style="left:1714.0px;top:1743.8px;font-size:33px;color:#0d850d;transform:scaleX(0.9579)">3 <span class="o r">&lt;</span><span class="k" style="margin-left:-0.09em"></span> <b class="bar"></b><i>x</i><b class="bar"></b> <span class="k" style="margin-left:-0.04em"></span><span class="o r">&lt;</span> 7<span class="gp" style="width:0.8em"></span><span class="ar">→</span></div>
<div class="t m" style="left:1714.0px;top:1794.2px;font-size:33px;color:#0d850d"><span class="o">−</span>7 <span class="o r">&lt;</span> <i>x</i> <span class="o r">&lt;</span> <span class="o">−</span>3<span class="gp" style="width:0.8em"></span>;<span class="gp" style="width:0.8em"></span>3 <span class="o r">&lt;</span> <i>x</i> <span class="o r">&lt;</span> 7</div>
<div class="t m" style="left:1713.0px;top:1837.2px;font-size:33px;color:#0d850d"><span class="p pl">(</span><span class="o">−</span>7<span class="cm">,</span><span class="o">−</span>3<span class="p pr">)</span><span class="u">∪</span><span class="p pl">(</span>3<span class="cm">,</span>7<span class="p pr">)</span></div>
<div class="t m" style="left:1714.8px;top:1976.8px;font-size:33px;color:#0d850d;transform:scaleX(0.9766)"><b class="bar b0"></b><i>x</i> <span class="o">−</span> 3<b class="bar"></b> <span class="k" style="margin-left:-0.04em"></span><span class="o r">=</span> 8<span class="gp" style="width:0.8em"></span><span class="ar">→</span><span class="gp" style="width:0.8em"></span><i>x</i> <span class="o r">=</span> <span class="o">−</span>5<span class="gp" style="width:0.8em"></span><i class="cj">ó</i><span class="gp" style="width:0.8em"></span><i>x</i> <span class="o r">=</span> 11</div>
<div class="t m" style="left:1714.8px;top:2133.8px;font-size:33px;color:#0d850d;transform:scaleX(0.9742)"><b class="bar b0"></b><i>x</i> <span class="o">−</span> 5<b class="bar"></b> <span class="k" style="margin-left:-0.04em"></span><span class="o r">&lt;</span> 9<span class="gp" style="width:0.8em"></span><span class="ar">→</span><span class="gp" style="width:0.8em"></span><span class="o">−</span> 4 <span class="o r">&lt;</span> <i>x</i> <span class="o r">&lt;</span> 14</div>
<div class="t m" style="left:1713.0px;top:2180.2px;font-size:33px;color:#0d850d;transform:scaleX(0.9562)"><span class="p pl">(</span><span class="o">−</span>4<span class="cm">,</span>14<span class="p pr">)</span></div>
<div class="t m" style="left:1710.8px;top:2307.3px;font-size:33px;color:#0d850d;transform:scaleX(0.9859)"><b class="bar b0"></b><i>x</i> <span class="o">−</span> 5<b class="bar"></b> <span class="k" style="margin-left:-0.04em"></span><span class="o r q">≤</span> 9<span class="gp" style="width:0.8em"></span><span class="ar">→</span><span class="gp" style="width:0.8em"></span><span class="o">−</span> 4 <span class="o r q">≤</span> <i>x</i> <span class="o r q">≤</span> 14</div>
<div class="t m" style="left:1710.0px;top:2356.2px;font-size:33px;color:#0d850d;transform:scaleX(0.9074)"><span class="p pl bk">[</span><span class="o">−</span>4<span class="cm">,</span>14<span class="p pr bk">]</span></div>
<div class="t m" style="left:1710.8px;top:2493.3px;font-size:33px;color:#0d850d;transform:scaleX(0.9860)"><b class="bar b0"></b><i>x</i> <span class="o">−</span> 5<b class="bar"></b> <span class="k" style="margin-left:-0.04em"></span><span class="o r">&gt;</span> 12<span class="gp" style="width:0.8em"></span><span class="ar">→</span><i>x</i> <span class="o r">&lt;</span> <span class="o">−</span>7<span class="gp" style="width:0.8em"></span><i class="cj">ó</i><span class="gp" style="width:0.8em"></span><i>x</i> <span class="o r">&gt;</span> 17</div>
<div class="t m" style="left:1710.0px;top:2539.7px;font-size:33px;color:#0d850d"><span class="p pl">(</span><span class="o">−</span>∞<span class="cm">,</span><span class="o">−</span>7<span class="p pr">)</span><span class="u">∪</span><span class="p pl">(</span>17<span class="cm">,</span><span class="o">+</span>∞<span class="p pr">)</span></div>
<div class="t m" style="left:1710.8px;top:2668.3px;font-size:33px;color:#0d850d;transform:scaleX(0.9894)"><b class="bar b0"></b><i>x</i> <span class="o">−</span> 5<b class="bar"></b> <span class="k" style="margin-left:-0.04em"></span><span class="o r q">≥</span> 12<span class="gp" style="width:0.8em"></span><span class="ar">→</span><i>x</i> <span class="o r q">≤</span> <span class="o">−</span>7<span class="gp" style="width:0.8em"></span><i class="cj">ó</i><span class="gp" style="width:0.8em"></span><i>x</i> <span class="o r q">≥</span> 17</div>
<div class="t m" style="left:1710.0px;top:2715.2px;font-size:33px;color:#0d850d;transform:scaleX(0.9915)"><span class="p pl">(</span><span class="o">−</span>∞<span class="cm">,</span><span class="o">−</span>7<span class="p pr bk">]</span><span class="u">∪</span><span class="p pl bk">[</span>17<span class="cm">,</span><span class="o">+</span>∞<span class="p pr">)</span></div>
<div class="t m" style="left:1710.0px;top:2826.8px;font-size:33px;color:#0d850d;transform:scaleX(0.9461)">0 <span class="o r">&lt;</span><span class="k" style="margin-left:-0.09em"></span> <b class="bar"></b><i>x</i> <span class="o">−</span> 3<b class="bar"></b> <span class="k" style="margin-left:-0.04em"></span><span class="o r">&lt;</span> 11<span class="gp" style="width:0.8em"></span><span class="ar">→</span></div>
<div class="t m" style="left:1710.0px;top:2878.7px;font-size:33px;color:#0d850d;transform:scaleX(0.9871)"><i>x</i> <span class="o r n">≠</span> 3<span class="gp" style="width:0.8em"></span><i class="cj">y</i><span class="gp" style="width:0.8em"></span><span class="o">−</span> 8 <span class="o r">&lt;</span> <i>x</i> <span class="o r">&lt;</span> 14</div>
<div class="t m" style="left:1710.0px;top:2920.2px;font-size:33px;color:#0d850d;transform:scaleX(0.9817)"><i>x</i> <span class="o r n">≠</span> 3<span class="gp" style="width:0.8em"></span><i class="cj">y</i><span class="gp" style="width:0.8em"></span><span class="p pl">(</span><span class="o">−</span>8<span class="cm">,</span>14<span class="p pr">)</span></div>
<div class="t m" style="left:1710.0px;top:3047.8px;font-size:33px;color:#0d850d;transform:scaleX(0.9491)">4 <span class="o r">&lt;</span><span class="k" style="margin-left:-0.09em"></span> <b class="bar"></b><i>x</i> <span class="o">−</span> 6<b class="bar"></b> <span class="k" style="margin-left:-0.04em"></span><span class="o r">&lt;</span> 13<span class="gp" style="width:0.8em"></span><span class="ar">→</span></div>
<div class="t m" style="left:1710.0px;top:3098.7px;font-size:33px;color:#0d850d;transform:scaleX(0.9768)"><span class="o">−</span>7 <span class="o r">&lt;</span> <i>x</i> <span class="o r">&lt;</span> 2<span class="gp" style="width:0.8em"></span><i class="cj">ó</i><span class="gp" style="width:0.8em"></span>10 <span class="o r">&lt;</span> <i>x</i> <span class="o r">&lt;</span> 19</div>
<div class="t m" style="left:1710.0px;top:3141.7px;font-size:33px;color:#0d850d;transform:scaleX(0.9945)"><span class="p pl">(</span><span class="o">−</span>7<span class="cm">,</span>2<span class="p pr">)</span><span class="u">∪</span><span class="p pl">(</span>10<span class="cm">,</span>19<span class="p pr">)</span></div>
<div class="t m" style="left:444.0px;top:782.0px;font-size:33px;color:#000;transform:scaleX(0.9040)"><span class="o">−</span><i>a</i></div>
<div class="t m" style="left:619.0px;top:787.6px;font-size:33px;color:#000;transform:scaleX(0.9697)">0</div>
<div class="t m" style="left:772.9px;top:782.0px;font-size:33px;color:#000;transform:scaleX(0.9000)"><i>a</i></div>
<div class="t m" style="left:446.0px;top:914.0px;font-size:33px;color:#000;transform:scaleX(0.9040)"><span class="o">−</span><i>a</i></div>
<div class="t m" style="left:621.0px;top:918.6px;font-size:33px;color:#000;transform:scaleX(0.9697)">0</div>
<div class="t m" style="left:774.9px;top:914.0px;font-size:33px;color:#000;transform:scaleX(0.9000)"><i>a</i></div>
<div class="t m" style="left:446.0px;top:1068.0px;font-size:33px;color:#000;transform:scaleX(0.9040)"><span class="o">−</span><i>a</i></div>
<div class="t m" style="left:621.0px;top:1071.6px;font-size:33px;color:#000;transform:scaleX(0.9697)">0</div>
<div class="t m" style="left:774.9px;top:1068.0px;font-size:33px;color:#000;transform:scaleX(0.9000)"><i>a</i></div>
<div class="t m" style="left:448.0px;top:1253.0px;font-size:33px;color:#000;transform:scaleX(0.9040)"><span class="o">−</span><i>a</i></div>
<div class="t m" style="left:623.0px;top:1257.6px;font-size:33px;color:#000;transform:scaleX(0.9697)">0</div>
<div class="t m" style="left:776.9px;top:1253.0px;font-size:33px;color:#000;transform:scaleX(0.9000)"><i>a</i></div>
<div class="t m" style="left:448.0px;top:1439.0px;font-size:33px;color:#000;transform:scaleX(0.9040)"><span class="o">−</span><i>a</i></div>
<div class="t m" style="left:623.0px;top:1443.6px;font-size:33px;color:#000;transform:scaleX(0.9697)">0</div>
<div class="t m" style="left:776.9px;top:1439.0px;font-size:33px;color:#000;transform:scaleX(0.9000)"><i>a</i></div>
<div class="t m" style="left:448.0px;top:1624.5px;font-size:33px;color:#000;transform:scaleX(0.9040)"><span class="o">−</span><i>a</i></div>
<div class="t m" style="left:623.0px;top:1629.6px;font-size:33px;color:#000;transform:scaleX(0.9697)">0</div>
<div class="t m" style="left:776.9px;top:1624.5px;font-size:33px;color:#000;transform:scaleX(0.9000)"><i>a</i></div>
<div class="t m" style="left:411.0px;top:1817.8px;font-size:33px;color:#000;transform:scaleX(0.9040)"><span class="o">−</span><i>a</i></div>
<div class="t m" style="left:544.0px;top:1819.8px;font-size:33px;color:#000;transform:scaleX(0.9771)"><span class="o">−</span><i>k</i></div>
<div class="t m" style="left:624.0px;top:1820.8px;font-size:33px;color:#000;transform:scaleX(0.9697)">0</div>
<div class="t m" style="left:692.5px;top:1819.3px;font-size:33px;color:#000;transform:scaleX(0.9539)"><i>k</i></div>
<div class="t m" style="left:821.4px;top:1817.3px;font-size:33px;color:#000;transform:scaleX(0.9000)"><i>a</i></div>
<div class="t m" style="left:436.0px;top:2017.8px;font-size:33px;color:#000;transform:scaleX(0.9401)"><i>c</i> <span class="o">−</span> <i>d</i></div>
<div class="t m" style="left:616.2px;top:2009.8px;font-size:33px;color:#000;transform:scaleX(0.9000)"><i>c</i></div>
<div class="t m" style="left:747.0px;top:2017.8px;font-size:33px;color:#000;transform:scaleX(0.9550)"><i>c</i> <span class="o">+</span> <i>d</i></div>
<div class="t m" style="left:437.5px;top:2179.3px;font-size:33px;color:#000;transform:scaleX(0.9475)"><i>c</i> <span class="o">−</span> <i>d</i></div>
<div class="t m" style="left:620.2px;top:2170.3px;font-size:33px;color:#000;transform:scaleX(0.9000)"><i>c</i></div>
<div class="t m" style="left:750.0px;top:2179.3px;font-size:33px;color:#000;transform:scaleX(0.9550)"><i>c</i> <span class="o">+</span> <i>d</i></div>
<div class="t m" style="left:437.5px;top:2357.3px;font-size:33px;color:#000;transform:scaleX(0.9475)"><i>c</i> <span class="o">−</span> <i>d</i></div>
<div class="t m" style="left:620.2px;top:2350.3px;font-size:33px;color:#000;transform:scaleX(0.9000)"><i>c</i></div>
<div class="t m" style="left:750.0px;top:2357.3px;font-size:33px;color:#000;transform:scaleX(0.9550)"><i>c</i> <span class="o">+</span> <i>d</i></div>
<div class="t m" style="left:440.0px;top:2542.3px;font-size:33px;color:#000;transform:scaleX(0.9475)"><i>c</i> <span class="o">−</span> <i>d</i></div>
<div class="t m" style="left:620.2px;top:2535.3px;font-size:33px;color:#000;transform:scaleX(0.9000)"><i>c</i></div>
<div class="t m" style="left:751.0px;top:2542.3px;font-size:33px;color:#000;transform:scaleX(0.9550)"><i>c</i> <span class="o">+</span> <i>d</i></div>
<div class="t m" style="left:440.0px;top:2728.8px;font-size:33px;color:#000;transform:scaleX(0.9475)"><i>c</i> <span class="o">−</span> <i>d</i></div>
<div class="t m" style="left:620.2px;top:2721.3px;font-size:33px;color:#000;transform:scaleX(0.9000)"><i>c</i></div>
<div class="t m" style="left:751.0px;top:2728.8px;font-size:33px;color:#000;transform:scaleX(0.9550)"><i>c</i> <span class="o">+</span> <i>d</i></div>
<div class="t m" style="left:440.0px;top:2916.8px;font-size:33px;color:#000;transform:scaleX(0.9475)"><i>c</i> <span class="o">−</span> <i>d</i></div>
<div class="t m" style="left:620.5px;top:2908.3px;font-size:33px;color:#000;transform:scaleX(0.9000)"><i>c</i></div>
<div class="t m" style="left:751.0px;top:2916.8px;font-size:33px;color:#000;transform:scaleX(0.9550)"><i>c</i> <span class="o">+</span> <i>d</i></div>
<div class="t m" style="left:527.0px;top:3060.3px;font-size:33px;color:#000;transform:scaleX(0.9671)"><i>c</i> <span class="o">−</span> <i>k</i></div>
<div class="t m" style="left:668.0px;top:3060.3px;font-size:33px;color:#000;transform:scaleX(0.9671)"><i>c</i> <span class="o">+</span> <i>k</i></div>
<div class="t m" style="left:395.0px;top:3129.3px;font-size:33px;color:#000;transform:scaleX(0.9401)"><i>c</i> <span class="o">−</span> <i>d</i></div>
<div class="t m" style="left:620.5px;top:3121.3px;font-size:33px;color:#000;transform:scaleX(0.9000)"><i>c</i></div>
<div class="t m" style="left:794.0px;top:3128.8px;font-size:33px;color:#000;transform:scaleX(0.9699)"><i>c</i> <span class="o">+</span> <i>d</i></div>
<div class="t m" style="left:674.7px;top:3240.5px;font-size:33px;color:#0c0cff;transform:scaleX(0.9000)"><span class="o r">&lt;</span></div>
<div class="t fn" style="left:723.0px;top:3240.5px;font-size:33px;color:#000;transform:scaleX(1.0196)">estrictamente menor</div>
<div class="t sc" style="left:1066.0px;top:3240.5px;font-size:33px;color:#000">;</div>
<div class="t m" style="left:1103.9px;top:3240.5px;font-size:33px;color:#0c0cff;transform:scaleX(0.9000)"><span class="o r q">≤</span></div>
<div class="t fn" style="left:1153.0px;top:3240.5px;font-size:33px;color:#000;transform:scaleX(1.0089)">menor o igual que</div>
<div class="t sc" style="left:1468.0px;top:3240.5px;font-size:33px;color:#000">;</div>
<div class="t m" style="left:1503.2px;top:3240.5px;font-size:33px;color:#0c0cff;transform:scaleX(0.9000)"><span class="o r">&gt;</span></div>
<div class="t fn" style="left:1553.0px;top:3240.5px;font-size:33px;color:#000;transform:scaleX(1.0326)">estrictamente mayor</div>
<div class="t sc" style="left:1900.0px;top:3240.5px;font-size:33px;color:#000">;</div>
<div class="t m" style="left:1935.4px;top:3240.5px;font-size:33px;color:#0c0cff;transform:scaleX(0.9000)"><span class="o r q">≥</span></div>
<div class="t fn" style="left:1986.0px;top:3240.5px;font-size:33px;color:#000;transform:scaleX(1.0213)">mayor o igual que</div>
<div class="t ft1" style="left:779.0px;top:3313.5px;font-size:38px;color:#fff;transform:scaleX(0.5093)">MATH CHEAT SHEET</div>
<div class="t ft2" style="left:1195.0px;top:3314.0px;font-size:37px;color:#fff;transform:scaleX(1.1350)">–</div>
<div class="t ft2" style="left:1251.0px;top:3314.0px;font-size:37px;color:#fff;transform:scaleX(0.9565)">3con14.com</div>
</body></html>
